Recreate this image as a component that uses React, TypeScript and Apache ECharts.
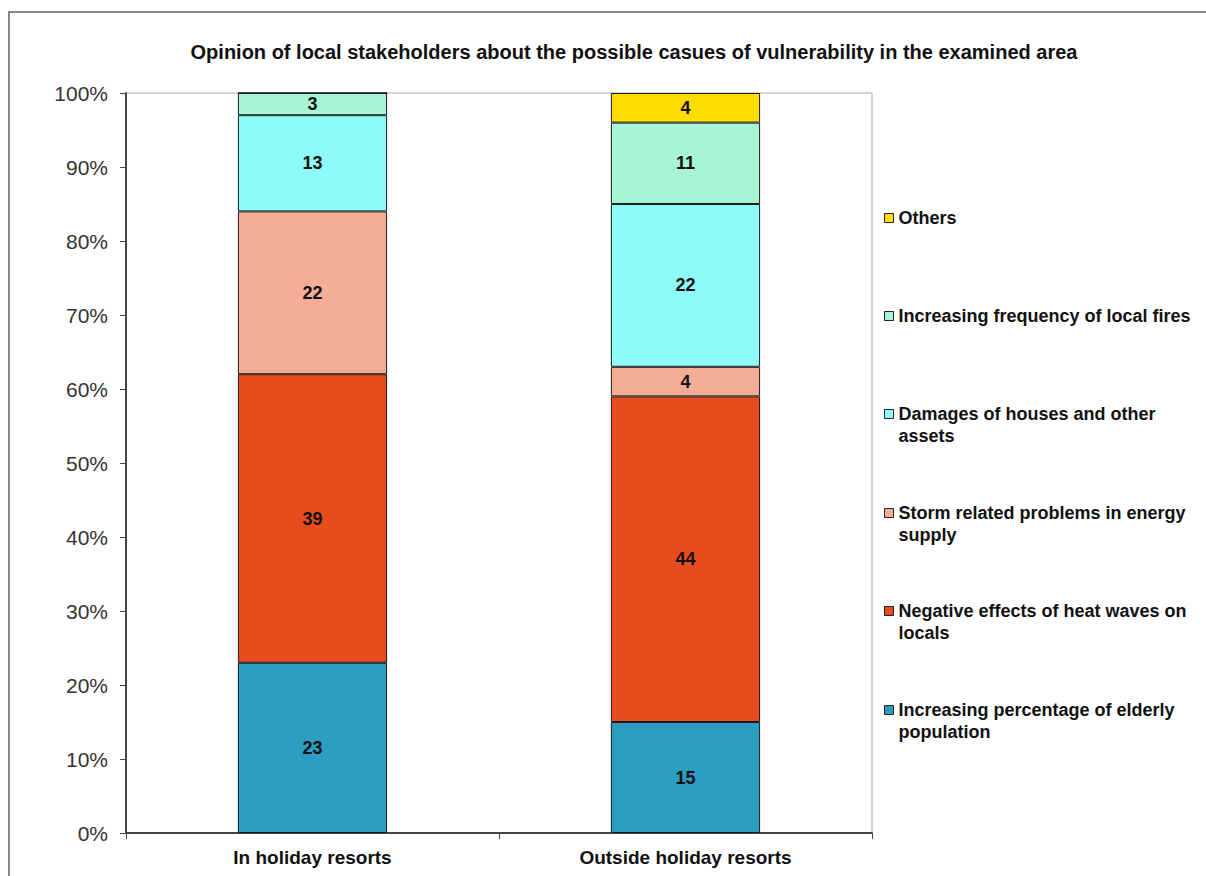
import React, { useEffect, useRef } from "react";
import * as echarts from "echarts";

const categories = ["In holiday resorts", "Outside holiday resorts"];
const seriesNames = [
  "Increasing percentage of elderly population",
  "Negative effects of heat waves on locals",
  "Storm related problems in energy supply",
  "Damages of houses and other assets",
  "Increasing frequency of local fires",
  "Others",
];
const legendLabels = [
  "Increasing percentage of elderly\npopulation",
  "Negative effects of heat waves on\nlocals",
  "Storm related problems in energy\nsupply",
  "Damages of houses and other\nassets",
  "Increasing frequency of local fires",
  "Others",
];
const elderly = [23, 15];
const heatWaves = [39, 44];
const storm = [22, 4];
const damages = [13, 22];
const fires = [3, 11];
const others = [0, 4];
const seriesValues = [elderly, heatWaves, storm, damages, fires, others];
const colors = ["#2A9DC0", "#E84C1E", "#F5AE95", "#8EFBFB", "#A8F5D6", "#FFDD00"];
const legendTops = [699, 600, 502, 403, 305, 207];

export default function App() {
  const ref = useRef<HTMLDivElement>(null);
  useEffect(() => {
    if (!ref.current) return;
    const chart = echarts.init(ref.current, null, { renderer: "svg" });
    const font = "'Liberation Sans', Arial, Helvetica, sans-serif";
    const series = seriesNames.map((name, i) => ({
      name,
      type: "bar",
      stack: "total",
      barWidth: "40%",
      data: seriesValues[i],
      itemStyle: { color: colors[i], borderColor: "#1a1a1a", borderWidth: 1 },
      label: {
        show: true,
        position: "inside",
        fontFamily: font,
        fontSize: 18,
        fontWeight: "bold",
        color: "#111",
        formatter: (p: any) => (p.value ? String(p.value) : ""),
      },
    }));
    const legends = seriesNames.map((name, i) => {
      const twoLine = legendLabels[i].indexOf("\n") >= 0;
      return {
        data: [name],
        left: 884,
        top: legendTops[i],
        orient: "vertical",
        padding: 0,
        itemWidth: 9,
        itemHeight: twoLine ? 31 : 9,
        itemGap: 5,
        selectedMode: false,
        icon: twoLine ? "path://M0,0L9,0L9,9L0,9Z M0,31" : "rect",
        itemStyle: { color: colors[i], borderColor: "#222", borderWidth: 1 },
        formatter: () => legendLabels[i],
        textStyle: {
          fontFamily: font,
          fontSize: 18,
          fontWeight: "bold",
          color: "#111",
          lineHeight: 22,
        },
      };
    });
    chart.setOption({
      animation: false,
      backgroundColor: "#fff",
      title: {
        text: "Opinion of local stakeholders about the possible casues of vulnerability in the examined area",
        left: 629,
        top: 37,
        textAlign: "center",
        textStyle: { fontFamily: font, fontSize: 20, fontWeight: "bold", color: "#111" },
      },
      graphic: [
        {
          type: "rect",
          shape: { x: 9, y: 12, width: 1300, height: 1000 },
          style: { fill: "none", stroke: "#888", lineWidth: 2 },
          silent: true,
        },
      ],
      legend: legends,
      grid: {
        left: 126,
        top: 93,
        right: 334,
        bottom: 43,
        show: true,
        borderColor: "#aaa",
        borderWidth: 1,
      },
      xAxis: {
        type: "category",
        data: categories,
        axisLine: { lineStyle: { color: "#444", width: 2 } },
        axisTick: { show: true, length: 6, lineStyle: { color: "#444" } },
        axisLabel: {
          fontFamily: font,
          fontSize: 19,
          fontWeight: "bold",
          color: "#111",
          margin: 15,
        },
      },
      yAxis: {
        type: "value",
        min: 0,
        max: 100,
        interval: 10,
        axisLine: { show: true, lineStyle: { color: "#444", width: 2 } },
        axisTick: { show: true, length: 6, lineStyle: { color: "#444" } },
        splitLine: { show: false },
        axisLabel: {
          formatter: "{value}%",
          fontFamily: font,
          fontSize: 21,
          color: "#333",
          margin: 18,
        },
      },
      series,
    });
    return () => chart.dispose();
  }, []);
  return (
    <div
      ref={ref}
      style={{ position: "fixed", left: 0, top: 0, width: 1206, height: 876 }}
    />
  );
}
